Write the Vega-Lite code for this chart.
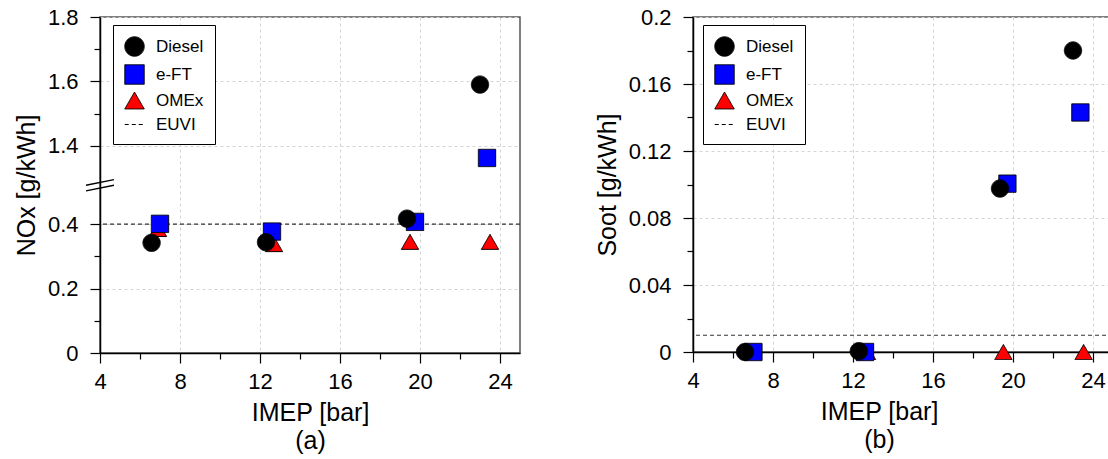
{
  "$schema": "https://vega.github.io/schema/vega-lite/v6.json",
  "padding": {"left": 13, "top": 5, "right": 0, "bottom": 0},
  "background": "white",
  "datasets": {
    "nox": [
      {"fuel": "OMEx", "imep": 6.9, "nox": 0.385},
      {"fuel": "OMEx", "imep": 12.7, "nox": 0.338},
      {"fuel": "OMEx", "imep": 19.5, "nox": 0.345},
      {"fuel": "OMEx", "imep": 23.5, "nox": 0.345},
      {"fuel": "e-FT", "imep": 7.0, "nox": 0.401},
      {"fuel": "e-FT", "imep": 12.6, "nox": 0.377},
      {"fuel": "e-FT", "imep": 19.75, "nox": 0.407},
      {"fuel": "e-FT", "imep": 23.35, "nox": 1.362},
      {"fuel": "Diesel", "imep": 6.58, "nox": 0.342},
      {"fuel": "Diesel", "imep": 12.3, "nox": 0.344},
      {"fuel": "Diesel", "imep": 19.35, "nox": 0.417},
      {"fuel": "Diesel", "imep": 23.0, "nox": 1.59}
    ],
    "soot": [
      {"fuel": "OMEx", "imep": 6.9, "soot": 0},
      {"fuel": "OMEx", "imep": 12.7, "soot": 0},
      {"fuel": "OMEx", "imep": 19.52, "soot": 0},
      {"fuel": "OMEx", "imep": 23.53, "soot": 0},
      {"fuel": "e-FT", "imep": 7.02, "soot": 0},
      {"fuel": "e-FT", "imep": 12.6, "soot": 0},
      {"fuel": "e-FT", "imep": 19.72, "soot": 0.1005},
      {"fuel": "e-FT", "imep": 23.37, "soot": 0.143},
      {"fuel": "Diesel", "imep": 6.6, "soot": 0},
      {"fuel": "Diesel", "imep": 12.29, "soot": 0.0005},
      {"fuel": "Diesel", "imep": 19.35, "soot": 0.0976},
      {"fuel": "Diesel", "imep": 23.0, "soot": 0.18}
    ]
  },
  "config": {
    "font": "Liberation Sans",
    "view": {"stroke": "#555", "strokeWidth": 1.5},
    "axis": {
      "labelFont": "Liberation Sans", "labelFontSize": 22, "labelColor": "black",
      "titleFont": "Liberation Sans", "titleFontSize": 25, "titleFontWeight": "normal", "titleColor": "black",
      "domainColor": "black", "domainWidth": 1.5, "tickColor": "black", "tickWidth": 1.2,
      "gridColor": "#d4d4d4", "gridDash": [3, 3], "gridWidth": 1,
      "labelFlush": false, "labelOverlap": false, "tickCount": 30
    },
    "legend": {
      "orient": "none", "legendY": 8,
      "strokeColor": "black", "strokeWidth": 1, "fillColor": "white", "cornerRadius": 0,
      "padding": 11, "labelFont": "Liberation Sans", "labelFontSize": 17, "labelColor": "black",
      "symbolSize": 380, "rowPadding": 3, "labelOffset": 11, "symbolOpacity": 1,
      "symbolStrokeWidth": 1, "symbolStrokeColor": "black"
    }
  },
  "spacing": 72,
  "resolve": {"scale": {"color": "independent", "shape": "independent", "strokeDash": "independent"}},
  "hconcat": [
    {
      "width": 420,
      "height": 336,
      "layer": [
        {
          "data": {"values": [{"limit": 0.4}]},
          "mark": {"type": "rule", "strokeDash": [4, 3], "color": "#333", "strokeWidth": 1.2},
          "encoding": {"y": {"field": "limit", "type": "quantitative"}}
        },
        {
          "data": {"name": "nox"},
          "mark": {"type": "point", "filled": true, "size": 300, "stroke": "black", "strokeWidth": 1, "opacity": 1},
          "encoding": {
            "x": {
              "field": "imep", "type": "quantitative",
              "scale": {"domain": [4, 25], "nice": false, "zero": false},
              "axis": {
                "values": [4, 6, 8, 10, 12, 14, 16, 18, 20, 22, 24],
                "tickSize": {"condition": {"test": "datum.value % 4 === 0", "value": 10}, "value": 6},
                "labelExpr": "datum.value % 4 === 0 ? format(datum.value, '~g') : ''",
                "grid": true,
                "gridOpacity": {"condition": {"test": "datum.value % 4 === 0", "value": 1}, "value": 0},
                "labelPadding": 8,
                "title": ["IMEP [bar]", "(a)"],
                "titleLineHeight": 28,
                "titlePadding": 8
              }
            },
            "y": {
              "field": "nox", "type": "quantitative",
              "scale": {"domain": [0, 0.52, 1.278, 1.8], "range": [336, 168.5, 168, 0], "nice": false, "zero": false},
              "axis": {
                "values": [0, 0.1, 0.2, 0.3, 0.4, 1.4, 1.5, 1.6, 1.7, 1.8],
                "tickSize": {"condition": {"test": "round(datum.value * 10) % 2 === 0", "value": 10}, "value": 6},
                "labelExpr": "round(datum.value * 10) % 2 === 0 ? format(datum.value, '~g') : ''",
                "grid": true,
                "gridOpacity": {"condition": {"test": "round(datum.value * 10) % 2 === 0", "value": 1}, "value": 0},
                "labelPadding": 12,
                "title": "NOx [g/kWh]",
                "titlePadding": 8
              }
            },
            "color": {
              "field": "fuel", "type": "nominal",
              "scale": {"domain": ["Diesel", "e-FT", "OMEx", "EUVI"], "range": ["black", "blue", "red", "black"]},
              "legend": {"title": null, "legendX": 13, "encode": {"symbols": {"update": {"stroke": {"value": "black"}, "strokeWidth": {"value": 1}}}}}
            },
            "shape": {
              "field": "fuel", "type": "nominal",
              "scale": {"domain": ["Diesel", "e-FT", "OMEx", "EUVI"], "range": ["circle", "square", "triangle-up", "stroke"]},
              "legend": {"title": null, "legendX": 13, "encode": {"symbols": {"update": {"stroke": {"value": "black"}, "strokeWidth": {"value": 1}}}}}
            },
            "strokeDash": {
              "field": "fuel", "type": "nominal",
              "scale": {"domain": ["Diesel", "e-FT", "OMEx", "EUVI"], "range": [[1, 0], [1, 0], [1, 0], [4, 3]]},
              "legend": {"title": null, "legendX": 13, "encode": {"symbols": {"update": {"stroke": {"value": "black"}, "strokeWidth": {"value": 1}}}}}
            }
          }
        },
        {
          "data": {"values": [{}]},
          "mark": {"type": "point", "shape": "M-1,0L1,-0.4M-1,0.4L1,0", "filled": false, "stroke": "black", "strokeWidth": 1.3, "size": 784, "opacity": 1},
          "encoding": {"x": {"datum": 4}, "y": {"datum": 0.9}}
        }
      ]
    },
    {
      "width": 420,
      "height": 335,
      "layer": [
        {
          "data": {"values": [{"limit": 0.01}]},
          "mark": {"type": "rule", "strokeDash": [4, 3], "color": "#333", "strokeWidth": 1.2},
          "encoding": {"y": {"field": "limit", "type": "quantitative"}}
        },
        {
          "data": {"name": "soot"},
          "mark": {"type": "point", "filled": true, "size": 300, "stroke": "black", "strokeWidth": 1, "opacity": 1},
          "encoding": {
            "x": {
              "field": "imep", "type": "quantitative",
              "scale": {"domain": [4, 25], "nice": false, "zero": false},
              "axis": {
                "values": [4, 6, 8, 10, 12, 14, 16, 18, 20, 22, 24],
                "tickSize": {"condition": {"test": "datum.value % 4 === 0", "value": 10}, "value": 6},
                "labelExpr": "datum.value % 4 === 0 ? format(datum.value, '~g') : ''",
                "grid": true,
                "gridOpacity": {"condition": {"test": "datum.value % 4 === 0", "value": 1}, "value": 0},
                "labelPadding": 8,
                "title": ["IMEP [bar]", "(b)"],
                "titleLineHeight": 28,
                "titlePadding": 8,
                "titleX": 186
              }
            },
            "y": {
              "field": "soot", "type": "quantitative",
              "scale": {"domain": [0, 0.2], "nice": false, "zero": false},
              "axis": {
                "values": [0, 0.02, 0.04, 0.06, 0.08, 0.1, 0.12, 0.14, 0.16, 0.18, 0.2],
                "tickSize": {"condition": {"test": "round(datum.value * 100) % 4 === 0", "value": 10}, "value": 6},
                "labelExpr": "round(datum.value * 100) % 4 === 0 ? format(datum.value, '~g') : ''",
                "grid": true,
                "gridOpacity": {"condition": {"test": "round(datum.value * 100) % 4 === 0", "value": 1}, "value": 0},
                "labelPadding": 12,
                "title": "Soot [g/kWh]",
                "titlePadding": 8
              }
            },
            "color": {
              "field": "fuel", "type": "nominal",
              "scale": {"domain": ["Diesel", "e-FT", "OMEx", "EUVI"], "range": ["black", "blue", "red", "black"]},
              "legend": {"title": null, "legendX": 10, "encode": {"symbols": {"update": {"stroke": {"value": "black"}, "strokeWidth": {"value": 1}}}}}
            },
            "shape": {
              "field": "fuel", "type": "nominal",
              "scale": {"domain": ["Diesel", "e-FT", "OMEx", "EUVI"], "range": ["circle", "square", "triangle-up", "stroke"]},
              "legend": {"title": null, "legendX": 10, "encode": {"symbols": {"update": {"stroke": {"value": "black"}, "strokeWidth": {"value": 1}}}}}
            },
            "strokeDash": {
              "field": "fuel", "type": "nominal",
              "scale": {"domain": ["Diesel", "e-FT", "OMEx", "EUVI"], "range": [[1, 0], [1, 0], [1, 0], [4, 3]]},
              "legend": {"title": null, "legendX": 10, "encode": {"symbols": {"update": {"stroke": {"value": "black"}, "strokeWidth": {"value": 1}}}}}
            }
          }
        }
      ]
    }
  ]
}
